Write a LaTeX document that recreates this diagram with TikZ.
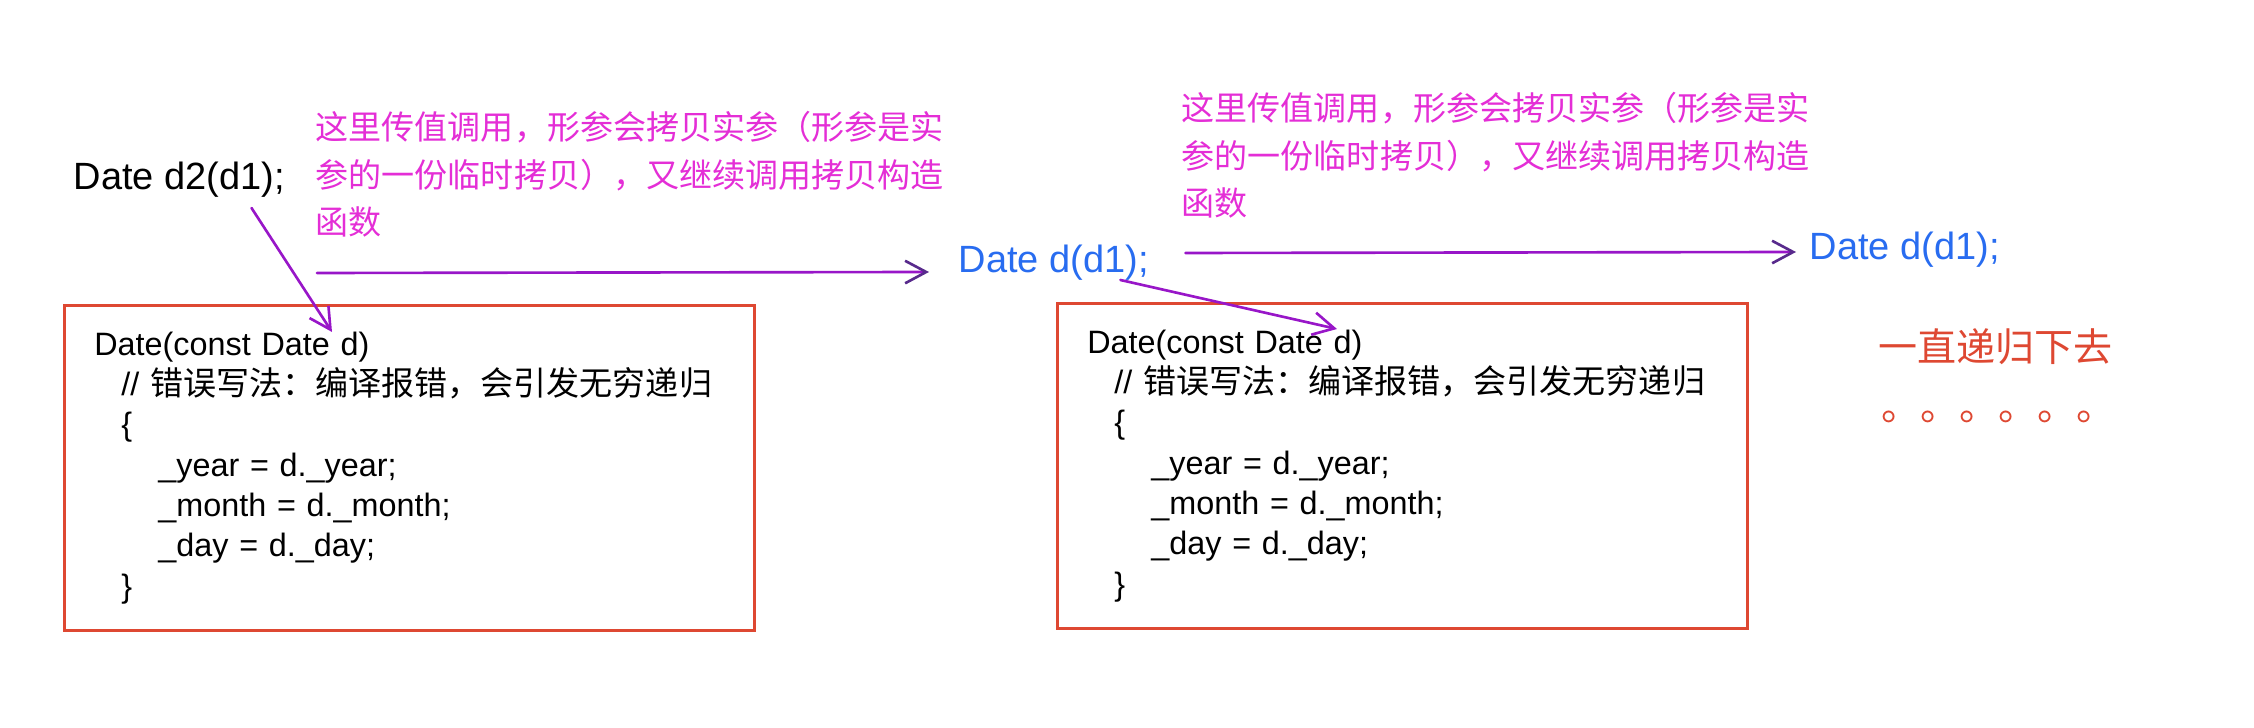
\documentclass[tikz,border=0pt]{standalone}
\usepackage{fontspec}
\setmainfont{Liberation Sans}
\newfontfamily\cjk{Noto Sans CJK SC}
\usetikzlibrary{arrows.meta,positioning,calc}
\definecolor{callpurple}{RGB}{152,22,200}
\definecolor{headpurple}{RGB}{88,42,140}
\definecolor{callblue}{RGB}{40,108,240}
\definecolor{notepink}{RGB}{228,46,214}
\definecolor{boxred}{RGB}{222,72,50}
\tikzset{
  ctorbox/.style={draw=boxred, line width=0.75pt, anchor=north west, align=left,
    text width=6.3cm, inner xsep=0.3cm, inner ysep=0pt, minimum height=3.25cm,
    font=\fontsize{9.2pt}{11.47pt}\selectfont},
  callcode/.style={anchor=base west, inner sep=0pt, font=\fontsize{10.8pt}{13pt}\selectfont},
  note/.style={anchor=north west, inner sep=0pt, align=left, text=notepink,
    font=\cjk\fontsize{9.4pt}{13.5pt}\selectfont},
  redtext/.style={anchor=base west, inner sep=0pt, text=boxred,
    font=\cjk\fontsize{11.1pt}{13pt}\selectfont},
  flowarr/.style={-{Straight Barb[length=6pt,width=6.4pt,color=headpurple]},
    line width=0.75pt, callpurple, line cap=round},
  callarr/.style={-{Straight Barb[length=6pt,width=6.4pt]},
    line width=0.75pt, callpurple, line cap=round}
}
\newcommand{\ctorcode}{Date(const Date d)\\
  \hspace*{0.27cm}// {\cjk\fontsize{9.4pt}{11.47pt}\selectfont 错误写法：编译报错，会引发无穷递归}\\
  \hspace*{0.27cm}\{\\
  \hspace*{0.64cm}\_year = d.\_year;\\
  \hspace*{0.64cm}\_month = d.\_month;\\
  \hspace*{0.64cm}\_day = d.\_day;\\
  \hspace*{0.27cm}\}}

\begin{document}
\begin{tikzpicture}[x=0.01cm, y=-0.01cm]
  \useasboundingbox (0,0) rectangle (2254,728);
  % first call and its note
  \node[callcode] (d2call) at (73,190) {Date d2(d1);};
  \node[note] (note1) at (315,111) {这里传值调用，形参会拷贝实参（形参是实\\参的一份临时拷贝），又继续调用拷贝构造\\函数};
  \node[ctorbox] (ctor1) at (63,304) {\ctorcode};
  % second call
  \node[callcode,text=callblue] (dcall1) at (958,273) {Date d(d1);};
  \node[note] (note2) at (1181,92) {这里传值调用，形参会拷贝实参（形参是实\\参的一份临时拷贝），又继续调用拷贝构造\\函数};
  \node[ctorbox] (ctor2) at (1056,302) {\ctorcode};
  % third call
  \node[callcode,text=callblue] (dcall2) at (1809,260) {Date d(d1);};
  \node[redtext] (recur) at (1878,362) {一直递归下去};
  \node[redtext] (dots) at (1881,421) {。。。。。。};
  % arrows
  \draw[callarr] ($(d2call.base east)+(-34,18)$) -- ($(ctor1.north west)+(269,28)$);
  \draw[flowarr] ($(note1.west |- dcall1.base)+(2,0)$) -- ($(dcall1.base west)+(-29,-1)$);
  \draw[callarr] ($(dcall1.base east)+(-29,7)$) -- ($(ctor2.north west)+(281,27)$);
  \draw[flowarr] ($(dcall1.base east)+(36,-20)$) -- ($(dcall2.base west)+(-13,-8)$);
\end{tikzpicture}
\end{document}
